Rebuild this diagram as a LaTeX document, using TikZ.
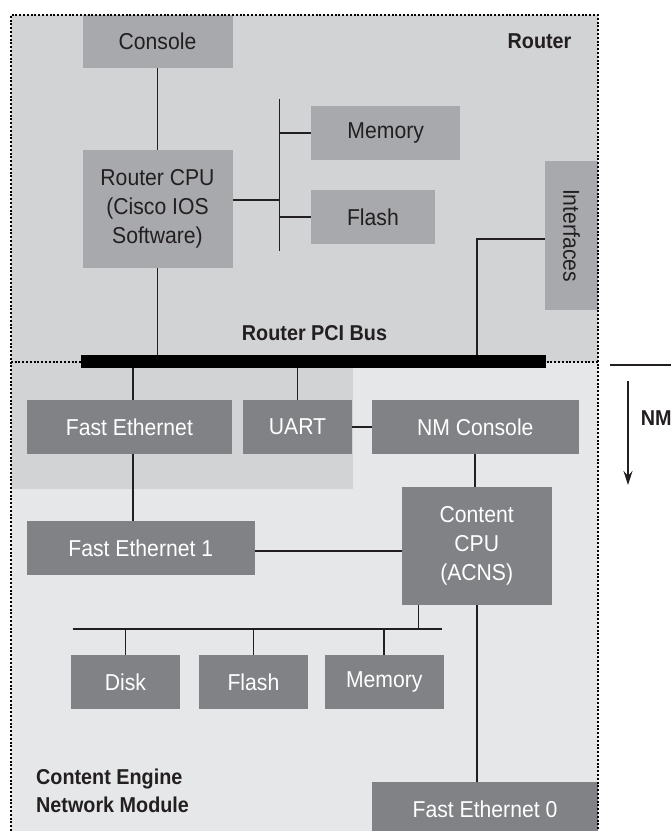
\documentclass[tikz,border=0pt]{standalone}
\usepackage{fontspec}
\setmainfont{Liberation Sans}
\newfontfamily\condfont{Liberation Sans}[FakeStretch=0.92]
\usetikzlibrary{arrows.meta}
\definecolor{routerbg}{HTML}{D1D3D4}
\definecolor{nmbg}{HTML}{E6E7E8}
\definecolor{rboxc}{HTML}{A7A9AC}
\definecolor{nboxc}{HTML}{808285}
\definecolor{inkc}{HTML}{231F20}
\newcommand\regfont{\condfont\fontsize{23}{29}\selectfont}
\newcommand\bldfont{\condfont\fontsize{21.5}{28.3}\selectfont\bfseries}
\tikzset{
  rbox/.style={rectangle, fill=rboxc, text=inkc, inner sep=0pt, align=center, font=\regfont},
  nbox/.style={rectangle, fill=nboxc, text=white, inner sep=0pt, align=center, font=\regfont},
  conn/.style={line width=1.8pt, draw=inkc},
  lbl/.style={text=inkc, inner sep=0pt, font=\bldfont},
  dotline/.style={line width=2pt, draw=black, dash pattern=on 2pt off 1.8pt},
  arrowline/.style={line width=1.2pt, draw=inkc}
}
\begin{document}
\begin{tikzpicture}[x=1pt,y=-1pt]
\useasboundingbox (0,0) rectangle (671,831);
\fill[white] (0,0) rectangle (671,831);
% backgrounds
\fill[routerbg] (10.7,15) rectangle (598,362);
\fill[nmbg] (10.7,362) rectangle (598,831);
\fill[routerbg] (10.7,362) rectangle (353,489);
\draw[dotline] (10.7,362) -- (598,362);

% router nodes
\node[rbox, minimum width=150pt, minimum height=53pt] (console) at (157.5,41.5) {Console};
\node[rbox, minimum width=150pt, minimum height=118pt] (rcpu) at (157.5,209) {Router CPU\\(Cisco IOS\\Software)};
\node[rbox, minimum width=149.4pt, minimum height=53.7pt] (mem1) at (385.7,133) {Memory};
\node[rbox, minimum width=123.7pt, minimum height=53.7pt] (flash1) at (372.9,217) {Flash};
\node[rbox, minimum width=53pt, minimum height=149pt] (ifaces) at (571.5,235.5) {};
\node[text=inkc, font=\regfont, rotate=-90, inner sep=0pt] (ifacetxt) at (ifaces.center) {Interfaces};
\node[lbl] (routerlbl) at (539.5,41) {Router};
\node[lbl] (buslbl) at (314.5,333) {Router PCI Bus};

% bus
\node[fill=black, minimum width=464.7pt, minimum height=13pt, inner sep=0pt] (bus) at (313.7,361.5) {};

% NM nodes
\node[nbox, minimum width=205.8pt, minimum height=53.7pt] (fe) at (129.4,427) {Fast Ethernet};
\node[nbox, minimum width=109pt, minimum height=53.7pt] (uart) at (297.5,427) {UART};
\node[nbox, minimum width=206.5pt, minimum height=53.7pt] (nmcon) at (475.3,427) {NM Console};
\node[nbox, minimum width=228.5pt, minimum height=53.7pt] (fe1) at (140.8,548) {Fast Ethernet 1};
\node[nbox, minimum width=149.8pt, minimum height=117.7pt] (ccpu) at (476.7,546) {Content\\CPU\\(ACNS)};
\node[nbox, minimum width=108.7pt, minimum height=53.7pt] (disk) at (125.4,682) {Disk};
\node[nbox, minimum width=108.7pt, minimum height=53.7pt] (flash2) at (253.4,682) {Flash};
\node[nbox, minimum width=118.9pt, minimum height=53.7pt] (mem2) at (384.3,682) {Memory};
\node[nbox, minimum width=226pt, minimum height=54pt] (fe0) at (485,809) {Fast Ethernet 0};
\node[lbl, align=left, anchor=west] (celbl) at (36,791) {Content Engine\\Network Module};

% helper coordinates
\coordinate (vbtop) at (279.4,98.7);
\coordinate (vbbot) at (279.4,251);
\coordinate (ifx) at (477,0);
\coordinate (fex) at (132.6,0);
\coordinate (lbl) at (72.7,628.7);
\coordinate (lbr) at (442.4,628.7);
\coordinate (cpux) at (418.5,0);

% router connectors
\draw[conn] (console.south) -- (rcpu.north);
\draw[conn] (vbtop) -- (vbbot);
\draw[conn] ([yshift=9pt]rcpu.east) -- ([yshift=9pt]rcpu.east -| vbtop);
\draw[conn] (mem1.west -| vbtop) -- (mem1.west);
\draw[conn] (flash1.west -| vbtop) -- (flash1.west);
\draw[conn] (rcpu.south) -- (rcpu.south |- bus.north);
\draw[conn] ([yshift=-3.5pt]ifaces.west) -| (ifx |- bus.north);

% NM connectors
\draw[conn] (fex |- bus.south) -- (fex |- fe.north);
\draw[conn] (uart.north |- bus.south) -- (uart.north);
\draw[conn] (uart.east) -- (nmcon.west);
\draw[conn] (nmcon.south) -- (nmcon.south |- ccpu.north);
\draw[conn] (fex |- fe.south) -- (fex |- fe1.north);
\draw[conn] ([yshift=-3pt]fe1.east) -- ([yshift=-3pt]fe1.east -| ccpu.west);
\draw[conn] (lbl) -- (lbr);
\draw[conn] (cpux |- ccpu.south) -- (cpux |- lbl);
\draw[conn] (disk.north |- lbl) -- (disk.north);
\draw[conn] (flash2.north |- lbl) -- (flash2.north);
\draw[conn] (mem2.north |- lbl) -- (mem2.north);
\draw[conn] (ccpu.south) -- (ccpu.south |- fe0.north);

% outer border
\draw[dotline] (10.7,831) -- (10.7,15) -- (598,15) -- (598,831);

% NM marker
\coordinate (nmline0) at (610,365);
\coordinate (nmline1) at (671,365);
\coordinate (arr0) at (628,381);
\coordinate (arr1) at (628,485);
\draw[arrowline] (nmline0) -- (nmline1);
\draw[arrowline, -{Stealth[length=14pt,width=9pt]}] (arr0) -- (arr1);
\node[lbl, anchor=west] (nmlbl) at (640.6,418) {NM};
\end{tikzpicture}
\end{document}
